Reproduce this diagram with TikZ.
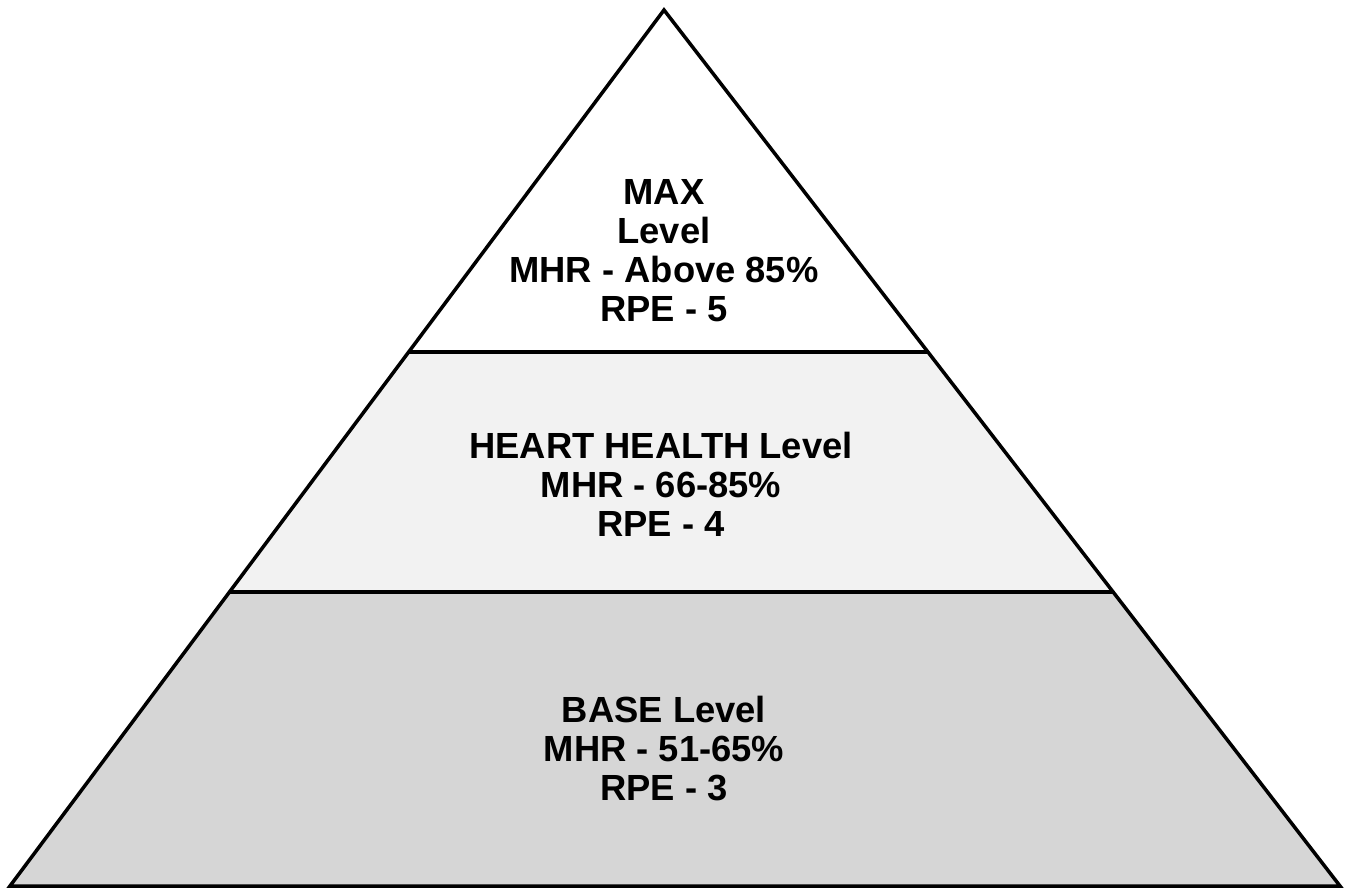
\documentclass[tikz,border=0pt]{standalone}
\usepackage{fontspec}
\setmainfont{Liberation Sans}
\usepackage{tikz}

\begin{document}
\begin{tikzpicture}[x=0.02cm,y=-0.02cm,
		edge/.style={line width=2pt,line join=miter},
		levellabel/.style={align=center,font=\fontsize{20.7}{22.2}\selectfont\bfseries}]
				\useasboundingbox (0,0) rectangle (1345,888);

				% corners of the pyramid and the level cuts
				\coordinate (top) at (664,10);
				\coordinate (bl) at (10,886);
				\coordinate (br) at (1340,886);
				\coordinate (ul) at (409,352);
				\coordinate (ur) at (928,352);
				\coordinate (ml) at (230,592);
				\coordinate (mr) at (1113,592);

				\fill[white] (top) -- (ul) -- (ur) -- cycle;
				\fill[gray!10] (ul) -- (ml) -- (mr) -- (ur) -- cycle;
				\fill[gray!32] (ml) -- (bl) -- (br) -- (mr) -- cycle;

				\draw[edge] (top) -- (bl) -- (br) -- cycle;
				\draw[edge] (ul) -- (ur);
				\draw[edge] (ml) -- (mr);

				\node[levellabel] (max) at (664,251) {MAX\\Level\\MHR - Above 85\%\\RPE - 5};
				\node[levellabel] (heart) at (661,484) {HEART HEALTH Level\\MHR - 66-85\%\\RPE - 4};
				\node[levellabel] (base) at (664,749) {BASE Level\\MHR - 51-65\%\\RPE - 3};
			\end{tikzpicture}
\end{document}
